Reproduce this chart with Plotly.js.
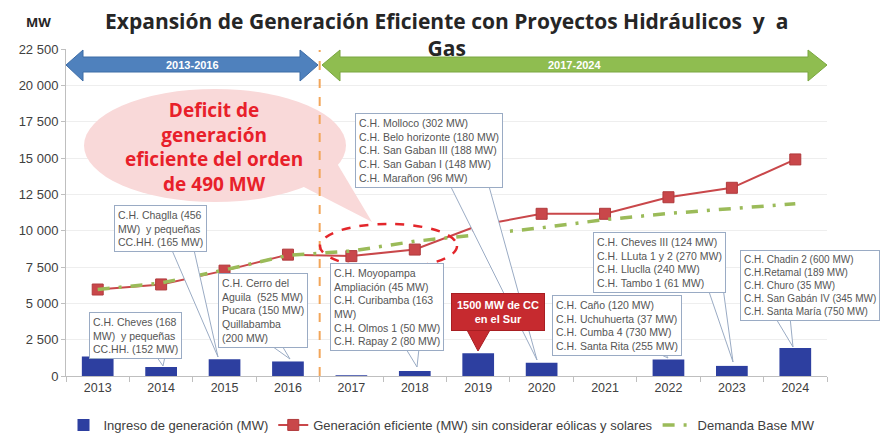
<!DOCTYPE html>
<html>
<head>
<meta charset="utf-8">
<script src="https://cdn.plot.ly/plotly-3.0.1.min.js"></script>
<style>html,body{margin:0;padding:0;background:#fff;}#chart{width:883px;height:433px;}</style>
</head>
<body>
<div id="chart"></div>
<script>
// ---- Data ----
const years = [2013, 2014, 2015, 2016, 2017, 2018, 2019, 2020, 2021, 2022, 2023, 2024];
const ingresoMW = [1350, 620, 1150, 1000, 50, 340, 1560, 914, 0, 1142, 695, 1919];
const eficienteMW = [5950, 6300, 7250, 8350, 8250, 8700, 10350, 11160, 11160, 12300, 12950, 14900];
const demandaMW = [5950, 6400, 7300, 8300, 8600, 9270, 9730, 10200, 10760, 11180, 11520, 11850];
const yTickVals = [0, 2500, 5000, 7500, 10000, 12500, 15000, 17500, 20000, 22500];
const yTickText = ['0', '2 500', '5 000', '7 500', '10 000', '12 500', '15 000', '17 500', '20 000', '22 500'];
const xTickText = years.map(String);
const seriesNames = ['Ingreso de generación (MW)', 'Generación eficiente (MW) sin considerar eólicas y solares', 'Demanda Base MW'];

// ---- Geometry helpers (pixel -> data) ----
const L = 66, T = 49, W = 761, H = 327, XMIN = 2012.5, XMAX = 2024.5, YMAX = 22500;
const X = px => XMIN + (px - L) / W * (XMAX - XMIN);
const Y = py => (T + H - py) / H * YMAX;
const poly = pts => 'M ' + pts.map(p => X(p[0]) + ',' + Y(p[1])).join(' L ') + ' Z';

const traces = [
  {type: 'bar', x: years, y: ingresoMW, name: seriesNames[0], width: 0.5,
   marker: {color: '#2d3fa0'}},
  {type: 'scatter', mode: 'lines+markers', x: years, y: eficienteMW, name: seriesNames[1],
   line: {color: '#c9474a', width: 2},
   marker: {symbol: 'square', size: 11, color: '#c9474a', line: {color: '#b03a3c', width: 1}}},
  {type: 'scatter', mode: 'lines', x: years, y: demandaMW, name: seriesNames[2],
   line: {color: '#9bbb59', width: 3.5, dash: '12px,9px,3px,9px'}}
];

const calloutLine = '#9aabc4';
const tails = [
  [[150,347],[167,347],[163,366]],
  [[168,241],[192,241],[218,357]],
  [[262,339],[278,339],[290,359]],
  [[400,339],[420,339],[417,367]],
  [[447,179],[487,179],[537,360]],
  [[640,345],[660,345],[668,358]],
  [[705,280],[722,280],[733,362]],
  [[775,317],[790,317],[793,347]]
];

const shapes = [
  // cloud
  {type: 'circle', xref: 'x', yref: 'y', x0: X(84), x1: X(346), y0: Y(202), y1: Y(89),
   fillcolor: '#f9d9d9', line: {width: 0}, layer: 'above'},
  {type: 'path', xref: 'x', yref: 'y', path: poly([[300,185],[335,160],[372,222]]),
   fillcolor: '#f9d9d9', line: {width: 0}, layer: 'above'},
  // orange divider
  {type: 'line', xref: 'x', yref: 'y', x0: 2016.5, x1: 2016.5, y0: 0, y1: Y(50),
   line: {color: '#f2a65a', width: 2, dash: 'dash'}, layer: 'above'},
  // arrows
  {type: 'path', xref: 'x', yref: 'y',
   path: poly([[66,65],[83,50],[83,57],[300,57],[300,50],[318,65],[300,81],[300,72],[83,72],[83,81]]),
   fillcolor: '#4f81bd', line: {color: '#3d6ca6', width: 1}, layer: 'above'},
  {type: 'path', xref: 'x', yref: 'y',
   path: poly([[322,65],[340,50],[340,57],[808,57],[808,50],[827,65],[808,81],[808,72],[340,72],[340,81]]),
   fillcolor: '#8fbd50', line: {color: '#7aa640', width: 1}, layer: 'above'},
  // red dashed ellipse
  {type: 'circle', xref: 'x', yref: 'y', x0: X(320), x1: X(457), y0: Y(268), y1: Y(224),
   line: {color: '#e3262b', width: 2.5, dash: 'dash'}, fillcolor: 'rgba(0,0,0,0)', layer: 'above'},
  // red callout tail
  {type: 'path', xref: 'x', yref: 'y', path: poly([[467,330],[490,330],[478,351]]),
   fillcolor: '#c62a2f', line: {color: '#a81e22', width: 1}, layer: 'above'}
];
tails.forEach(t => shapes.push({type: 'path', xref: 'x', yref: 'y', path: poly(t),
  fillcolor: '#ffffff', line: {color: calloutLine, width: 1}, layer: 'above'}));

function callout(px, py, text, size) {
  return {xref: 'x', yref: 'y', x: X(px), y: Y(py), xanchor: 'left', yanchor: 'top',
    text: text, showarrow: false, align: 'left',
    font: {family: 'Liberation Sans, Arial, sans-serif', size: size || 10.5, color: '#555555'},
    bgcolor: '#ffffff', bordercolor: calloutLine, borderwidth: 1, borderpad: 3};
}
const PX = px => (px - L) / W;          // pixel -> paper x
const PY = py => (T + H - py) / H;      // pixel -> paper y

const annotations = [
  {xref: 'paper', yref: 'paper', x: PX(446), y: PY(35), xanchor: 'center', yanchor: 'middle',
   text: 'Expansión de Generación Eficiente con Proyectos Hidráulicos  y  a<br>Gas', showarrow: false,
   font: {family: 'Open Sans, sans-serif', size: 21, color: '#262626', weight: 700}},
  {xref: 'paper', yref: 'paper', x: PX(38), y: PY(22), xanchor: 'center', yanchor: 'middle',
   text: 'MW', showarrow: false, font: {family: 'Open Sans, sans-serif', size: 13, color: '#262626', weight: 700}},
  {xref: 'x', yref: 'y', x: X(192), y: Y(65), text: '2013-2016', showarrow: false,
   font: {family: 'Liberation Sans, Arial, sans-serif', size: 11, color: '#ffffff', weight: 700}},
  {xref: 'x', yref: 'y', x: X(574), y: Y(65), text: '2017-2024', showarrow: false,
   font: {family: 'Liberation Sans, Arial, sans-serif', size: 11, color: '#ffffff', weight: 700}},
  {xref: 'x', yref: 'y', x: X(214), y: Y(147), text: 'Deficit de<br>generación<br>eficiente del orden<br>de 490 MW',
   showarrow: false, font: {family: 'Open Sans, sans-serif', size: 19, color: '#e8202a', weight: 700}},
  callout(89, 312, 'C.H. Cheves (168<br>MW)  y pequeñas<br>CC.HH. (152 MW)'),
  callout(114, 205, 'C.H. Chaglla (456<br>MW)  y pequeñas<br>CC.HH. (165 MW)'),
  callout(218, 273, 'C.H. Cerro del<br>Aguila  (525 MW)<br>Pucara (150 MW)<br>Quillabamba<br>(200 MW)'),
  callout(330, 263, 'C.H. Moyopampa<br>Ampliación (45 MW)<br>C.H. Curibamba (163<br>MW)<br>C.H. Olmos 1 (50 MW)<br>C.H. Rapay 2 (80 MW)'),
  callout(355, 113, 'C.H. Molloco (302 MW)<br>C.H. Belo horizonte (180 MW)<br>C.H. San Gaban III (188 MW)<br>C.H. San Gaban I (148 MW)<br>C.H. Marañon (96 MW)'),
  callout(552, 295, 'C.H. Caño (120 MW)<br>C.H. Uchuhuerta (37 MW)<br>C.H. Cumba 4 (730 MW)<br>C.H. Santa Rita (255 MW)'),
  callout(593, 232, 'C.H. Cheves III (124 MW)<br>C.H. LLuta 1 y 2 (270 MW)<br>C.H. Lluclla (240 MW)<br>C.H. Tambo 1 (61 MW)'),
  callout(740, 250, 'C.H. Chadin 2 (600 MW)<br>C.H.Retamal (189 MW)<br>C.H. Churo (35 MW)<br>C.H. San Gabán IV (345 MW)<br>C.H. Santa María (750 MW)', 10),
  {xref: 'x', yref: 'y', x: X(498), y: Y(312), xanchor: 'center', yanchor: 'middle',
   text: '1500 MW de CC<br>en el Sur', showarrow: false, align: 'center',
   font: {family: 'Liberation Sans, Arial, sans-serif', size: 11, color: '#ffffff', weight: 700},
   bgcolor: '#c62a2f', bordercolor: '#a81e22', borderwidth: 1, borderpad: 5}
];

const layout = {
  width: 883, height: 433,
  margin: {l: L, r: 883 - L - W, t: T, b: 433 - T - H, pad: 0, autoexpand: false},
  paper_bgcolor: '#ffffff', plot_bgcolor: '#ffffff',
  showlegend: true,
  legend: {orientation: 'h', xref: 'container', yref: 'container', x: 442 / 883, xanchor: 'center',
    y: 1 - 425 / 433, yanchor: 'middle',
    font: {family: 'Liberation Sans, Arial, sans-serif', size: 13, color: '#404040'},
    itemwidth: 30, traceorder: 'normal'},
  xaxis: {range: [XMIN, XMAX], tickvals: years, ticktext: xTickText, showgrid: false, zeroline: false,
    showline: true, linecolor: '#bfbfbf', ticks: '', automargin: false,
    minor: {tickvals: [2012.5,2013.5,2014.5,2015.5,2016.5,2017.5,2018.5,2019.5,2020.5,2021.5,2022.5,2023.5,2024.5], ticks: 'outside', ticklen: 5, tickcolor: '#bfbfbf', showgrid: false},
    tickfont: {family: 'Liberation Sans, Arial, sans-serif', size: 12.5, color: '#404040'}, fixedrange: true},
  yaxis: {range: [0, YMAX], tickvals: yTickVals, ticktext: yTickText, showgrid: true, gridcolor: '#eeeeee',
    zeroline: false, showline: true, linecolor: '#bfbfbf', ticks: 'outside', ticklen: 4, tickcolor: '#bfbfbf',
    automargin: false,
    tickfont: {family: 'Liberation Sans, Arial, sans-serif', size: 13, color: '#404040'}, fixedrange: true},
  shapes: shapes,
  annotations: annotations,
  bargap: 0.5
};

Plotly.newPlot('chart', traces, layout, {displayModeBar: false, staticPlot: true});
</script>
</body>
</html>
